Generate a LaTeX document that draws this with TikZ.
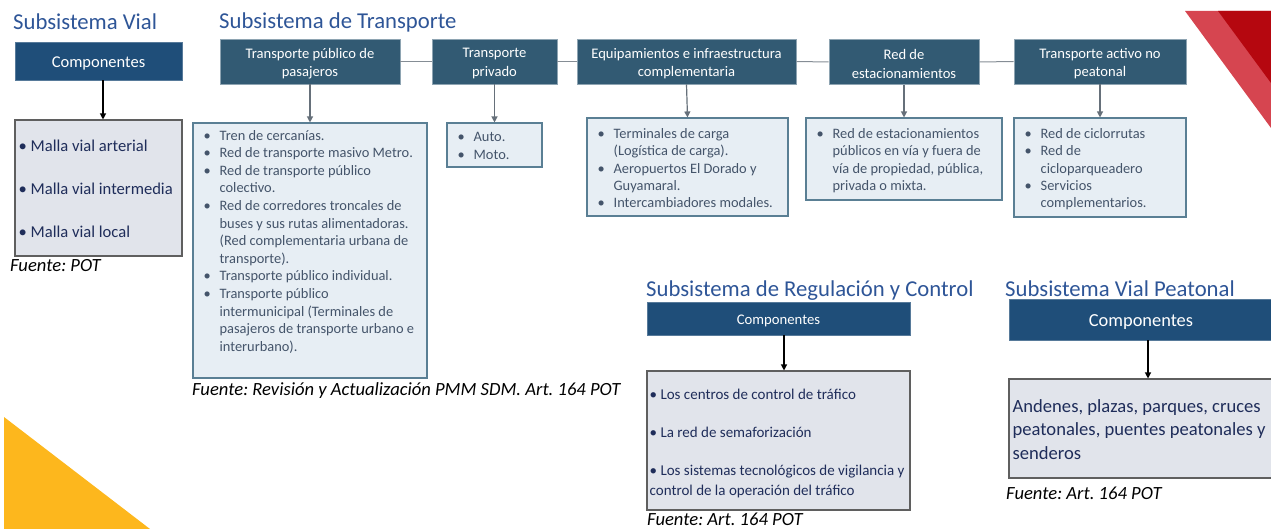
\documentclass[tikz,border=0pt]{standalone}
\usepackage{fontspec}
\setmainfont{Carlito}
\usetikzlibrary{arrows.meta}
\definecolor{ttl}{HTML}{2E5597}
\definecolor{compblue}{HTML}{1F4E79}
\definecolor{hdrc}{HTML}{325A73}
\definecolor{tlfill}{HTML}{E7EEF4}
\definecolor{tlborder}{HTML}{5A7F94}
\definecolor{glfill}{HTML}{E1E4EB}
\definecolor{glborder}{HTML}{5F5F5F}
\definecolor{ltxt}{HTML}{44546A}
\definecolor{gtxt}{HTML}{1F2D5A}
\definecolor{arrg}{HTML}{66707A}
\definecolor{lred}{HTML}{D64550}
\definecolor{dred}{HTML}{B5070F}
\definecolor{yel}{HTML}{FDB71D}
\newcommand{\bl}[1]{\makebox[16pt][l]{•}#1}
\newcommand{\cl}[1]{\hspace*{16pt}#1}
\frenchspacing
\begin{document}
\frenchspacing
\begin{tikzpicture}[x=1pt,y=-1pt,
  title/.style={anchor=base west, inner sep=0, text=ttl, font=\fontsize{22.7}{26}\selectfont},
  fuente/.style={anchor=base west, inner sep=0, font=\fontsize{18.6}{22}\itshape\selectfont},
  comp/.style={fill=compblue, draw=compblue!75!white, line width=0.6pt, inner sep=0},
  ctext/.style={inner sep=0, text=white},
  hdr/.style={fill=hdrc, draw=hdrc!55!white, line width=0.8pt, inner sep=0},
  htext/.style={inner sep=0, text=white, align=center, font=\fontsize{14.6}{18.4}\selectfont},
  tlist/.style={fill=tlfill, draw=tlborder, line width=1.1pt, inner sep=0},
  glist/.style={fill=glfill, draw=glborder, line width=1.1pt, inner sep=0},
  ltext/.style={anchor=north west, inner sep=0, align=left, text=ltxt, font=\fontsize{14.4}{17.6}\selectfont},
  gtext/.style={anchor=north west, inner sep=0, align=left, text=gtxt},
  garrow/.style={draw=arrg, line width=1.2pt, -{Triangle[length=6pt,width=6pt]}},
  barrow/.style={draw=black, line width=1.2pt, -{Triangle[length=6pt,width=6pt]}},
  hline/.style={draw=arrg!80!white, line width=1pt}]
\useasboundingbox (0,0) rectangle (1271,529);
% decorations
\fill[yel] (4,417) -- (150,529) -- (4,529) -- cycle;
\fill[lred] (1185,11) -- (1271,11) -- (1271,128) -- cycle;
\fill[dred] (1218,11) -- (1271,11) -- (1271,83) -- cycle;

% Subsistema Vial
\node[title] (tv) at (13,30) {Subsistema Vial};
\node[comp, minimum width=167pt, minimum height=38pt] (vc) at (98.5,61) {};
\node[ctext, font=\fontsize{16.5}{20}\selectfont] (vct) at ([shift={(0,2.5)}]vc.center) {Componentes};
\node[glist, minimum width=167pt, minimum height=136pt] (vl) at (98.5,188) {};
\node[gtext, font=\fontsize{16.6}{43}\selectfont] (vt) at ([shift={(4,20.5)}]vl.north west) {• Malla vial arterial\\ • Malla vial intermedia\\ • Malla vial local};
\draw[barrow] ([xshift=4.5pt]vc.south) -- ([xshift=4.5pt]vl.north);
\node[fuente] (fv) at (10,272) {Fuente: POT};

% Subsistema de Transporte
\node[title] (tt) at (219,29) {Subsistema de Transporte};
\node[hdr, minimum width=180pt, minimum height=45pt] (h1) at (310,61.5) {};
\node[hdr, minimum width=125pt, minimum height=45pt] (h2) at (494.5,61.5) {};
\node[hdr, minimum width=219pt, minimum height=45pt] (h3) at (686.5,61.5) {};
\node[hdr, minimum width=150pt, minimum height=45pt] (h4) at (904,62) {};
\node[hdr, minimum width=172pt, minimum height=45pt] (h5) at (1100,61.5) {};
\node[htext] (h1t) at ([shift={(0,2)}]h1.center) {Transporte público de\\pasajeros};
\node[htext] (h2t) at ([shift={(0,2)}]h2.center) {Transporte\\privado};
\node[htext] (h3t) at ([shift={(0,2)}]h3.center) {Equipamientos e infraestructura\\complementaria};
\node[htext] (h4t) at ([shift={(0,2)}]h4.center) {Red de\\estacionamientos};
\node[htext] (h5t) at ([shift={(0,2)}]h5.center) {Transporte activo no\\peatonal};
\draw[hline] (h1.east) -- (h2.west);
\draw[hline] (h2.east) -- (h3.west);
\draw[hline] (h3.east) -- (h4.west);
\draw[hline] (h4.east) -- (h5.west);

\node[tlist, minimum width=234pt, minimum height=255pt] (l1) at (310,250.5) {};
\node[tlist, minimum width=95pt, minimum height=44pt] (l2) at (494.5,145) {};
\node[tlist, minimum width=201pt, minimum height=98pt] (l3) at (687.5,167) {};
\node[tlist, minimum width=196pt, minimum height=82pt] (l4) at (904,159) {};
\node[tlist, minimum width=172pt, minimum height=99pt] (l5) at (1100,167.5) {};
\foreach \i in {1,...,5} {\draw[garrow] (h\i.south) -- (l\i.north);}

\node[ltext] (t1) at ([shift={(11,7.5)}]l1.north west) {\bl{Tren de cercanías.}\\ \bl{Red de transporte masivo Metro.}\\ \bl{Red de transporte público}\\ \cl{colectivo.}\\ \bl{Red de corredores troncales de}\\ \cl{buses y sus rutas alimentadoras.}\\ \cl{(Red complementaria urbana de}\\ \cl{transporte).}\\ \bl{Transporte público individual.}\\ \bl{Transporte público}\\ \cl{intermunicipal (Terminales de}\\ \cl{pasajeros de transporte urbano e}\\ \cl{interurbano).}};
\node[ltext] (t2) at ([shift={(11,10)}]l2.north west) {\bl{Auto.}\\ \bl{Moto.}};
\node[ltext, font=\fontsize{14.4}{17.3}\selectfont] (t3) at ([shift={(11,11)}]l3.north west) {\bl{Terminales de carga}\\ \cl{(Logística de carga).}\\ \bl{Aeropuertos El Dorado y}\\ \cl{Guyamaral.}\\ \bl{Intercambiadores modales.}};
\node[ltext, font=\fontsize{14.4}{17.3}\selectfont] (t4) at ([shift={(11,11)}]l4.north west) {\bl{Red de estacionamientos}\\ \cl{públicos en vía y fuera de}\\ \cl{vía de propiedad, pública,}\\ \cl{privada o mixta.}};
\node[ltext, font=\fontsize{14.4}{17.3}\selectfont] (t5) at ([shift={(11,11)}]l5.north west) {\bl{Red de ciclorrutas}\\ \bl{Red de}\\ \cl{cicloparqueadero}\\ \bl{Servicios}\\ \cl{complementarios.}};
\node[fuente] (ft) at (192,395) {Fuente: Revisión y Actualización PMM SDM. Art. 164 POT};

% Subsistema de Regulación y Control
\node[title] (tr) at (646,296) {Subsistema de Regulación y Control};
\node[comp, minimum width=263pt, minimum height=33pt] (rc) at (778.5,318.5) {};
\node[ctext, font=\fontsize{14.7}{18}\selectfont] (rct) at ([shift={(0,2.5)}]rc.center) {Componentes};
\node[glist, minimum width=263pt, minimum height=139pt] (rl) at (778.5,440.5) {};
\draw[barrow] ([xshift=5.5pt]rc.south) -- ([xshift=5.5pt]rl.north);
\node[gtext, font=\fontsize{15}{20.3}\selectfont] (rt) at ([shift={(3,18.5)}]rl.north west) {• Los centros de control de tráfico\\[17.7pt] • La red de semaforización\\[17.7pt] • Los sistemas tecnológicos de vigilancia y\\control de la operación del tráfico};
\node[fuente] (fr) at (647,525) {Fuente: Art. 164 POT};

% Subsistema Vial Peatonal
\node[title] (tp) at (1005,296) {Subsistema Vial Peatonal};
\node[comp, minimum width=264pt, minimum height=41pt] (pc) at (1141,319.5) {};
\node[ctext, font=\fontsize{18.4}{22}\selectfont] (pct) at ([shift={(0,2.5)}]pc.center) {Componentes};
\node[glist, minimum width=264pt, minimum height=99pt] (pl) at (1141,428.5) {};
\draw[barrow] ([xshift=7pt]pc.south) -- ([xshift=7pt]pl.north);
\node[gtext, font=\fontsize{18.6}{23.8}\selectfont] (pt) at ([shift={(4,20.5)}]pl.north west) {Andenes, plazas, parques, cruces\\peatonales, puentes peatonales y\\senderos};
\node[fuente] (fp) at (1006,499) {Fuente: Art. 164 POT};
\end{tikzpicture}
\end{document}
